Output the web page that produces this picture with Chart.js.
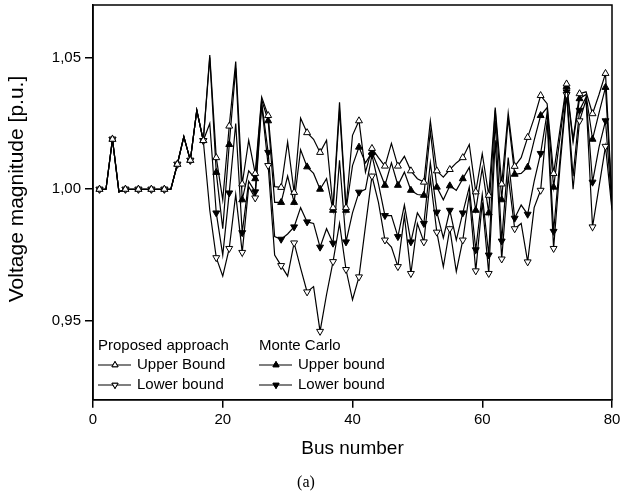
<!DOCTYPE html>
<html>
<head>
<meta charset="utf-8">
<script src="https://cdn.jsdelivr.net/npm/chart.js@4/dist/chart.umd.min.js"></script>
<style>
  html, body { margin: 0; padding: 0; background: #fff; }
  #wrap { width: 620px; height: 494px; }
</style>
</head>
<body>
<div id="wrap"><canvas id="busChart" width="620" height="494"></canvas></div>
<script>
// bus numbers (x axis categories)
const buses = [1,2,3,4,5,6,7,8,9,10,11,12,13,14,15,16,17,18,19,20,
  21,22,23,24,25,26,27,28,29,30,31,32,33,34,35,36,37,38,39,40,
  41,42,43,44,45,46,47,48,49,50,51,52,53,54,55,56,57,58,59,60,
  61,62,63,64,65,66,67,68,69,70,71,72,73,74,75,76,77,78,79,80];

// Proposed approach - upper bound
const propUpper = [1.000,1.000,1.019,0.999,1.000,1.000,1.000,1.000,1.000,1.000,
  1.000,1.000,1.0095,1.020,1.011,1.030,1.0185,1.051,1.012,0.996,
  1.024,1.0485,1.002,1.0186,1.006,1.035,1.028,1.001,1.0007,1.018,
  0.9988,1.027,1.0215,1.019,1.014,1.0186,0.993,1.033,0.993,1.0205,
  1.026,1.0065,1.0155,1.012,1.0088,1.0174,1.0088,1.0125,1.007,1.004,
  1.0027,1.026,1.007,1.0046,1.0075,1.010,1.012,1.017,0.999,1.0135,
  0.9977,1.031,1.002,1.029,1.0087,1.012,1.0197,1.027,1.0356,1.0325,
  1.006,1.023,1.040,1.019,1.0363,1.037,1.0287,1.036,1.044,0.996];

// Proposed approach - lower bound
const propLower = [1.000,1.000,1.019,0.999,1.000,1.000,1.000,1.000,1.000,1.000,
  1.000,1.000,1.0095,1.020,1.011,1.030,1.0185,0.992,0.974,0.967,
  0.9775,0.998,0.976,1.001,0.9967,1.032,1.009,0.975,0.971,0.967,
  0.9796,0.970,0.961,0.963,0.946,0.960,0.9725,0.987,0.9695,0.958,
  0.9667,0.986,1.005,0.995,0.9807,0.978,0.9706,0.990,0.968,0.987,
  0.980,1.004,0.9837,0.9705,0.985,0.9687,0.9807,0.998,0.969,0.995,
  0.968,1.0186,0.9735,1.005,0.985,0.987,0.9724,0.993,0.9996,1.026,
  0.9775,1.009,1.036,1.000,1.026,1.034,0.9857,1.001,1.0163,0.992];

// Monte Carlo - upper bound
const mcUpper = [1.000,1.000,1.019,0.999,1.000,1.000,1.000,1.000,1.000,1.000,
  1.000,1.000,1.0095,1.020,1.011,1.030,1.0185,1.050,1.0064,0.985,
  1.017,1.046,0.996,1.007,1.004,1.034,1.026,0.995,0.995,1.005,
  0.995,1.015,1.0085,1.006,1.000,1.004,0.992,1.030,0.992,1.009,
  1.016,1.010,1.014,1.008,1.0015,1.010,1.0015,1.0065,0.9996,0.998,
  0.9977,1.022,1.0008,0.996,1.0013,0.9996,1.004,1.0083,0.992,1.008,
  0.991,1.030,0.996,1.027,1.0057,1.006,1.0084,1.0186,1.028,1.031,
  1.0008,1.020,1.039,1.018,1.0344,1.036,1.019,1.029,1.0387,0.995];

// Monte Carlo - lower bound
const mcLower = [1.000,1.000,1.019,0.999,1.000,1.000,1.000,1.000,1.000,1.000,
  1.000,1.000,1.0095,1.020,1.011,1.030,1.0185,1.025,0.991,0.975,
  0.9986,1.025,0.9835,1.003,0.999,1.033,1.014,0.982,0.981,0.983,
  0.9857,0.993,0.9876,0.987,0.978,0.985,0.9795,1.011,0.980,0.991,
  0.9989,1.000,1.013,1.002,0.990,0.990,0.982,0.994,0.980,0.991,
  0.987,1.010,0.9913,0.9815,0.992,0.9807,0.991,1.0008,0.977,0.998,
  0.975,1.026,0.9803,1.012,0.989,0.994,0.9905,1.003,1.0136,1.029,
  0.984,1.012,1.037,1.005,1.030,1.035,1.0027,1.016,1.026,0.993];

const xTicks = [0, 20, 40, 60, 80];
const yTicks = [0.95, 1.00, 1.05];

const FONT = "'Liberation Sans', Arial, sans-serif";

function toPoints(values) {
    return buses.map((b, i) => ({ x: b, y: values[i] }));
}

// markers only on every other bus (odd numbers)
function markerRadius(ctx) {
    return ctx.raw && ctx.raw.x % 2 === 1 ? 4 : 0;
}

function makeSet(label, values, fill, rotation) {
    return {
        label: label,
        data: toPoints(values),
        borderColor: '#000',
        borderWidth: 1.2,
        pointStyle: 'triangle',
        pointRotation: rotation,
        pointRadius: markerRadius,
        pointHoverRadius: markerRadius,
        pointBackgroundColor: fill,
        pointBorderColor: '#000',
        pointBorderWidth: 1,
        tension: 0,
        fill: false
    };
}

// frame, y title and legend drawn on top of the plot
const framePlugin = {
    id: 'framePlugin',
    afterDraw(chart) {
        const ctx = chart.ctx;
        const a = chart.chartArea;
        ctx.save();
        ctx.strokeStyle = '#000';
        ctx.lineWidth = 1.5;
        ctx.strokeRect(a.left, a.top, a.right - a.left, a.bottom - a.top);

        // y axis title
        ctx.save();
        ctx.translate(17, 189);
        ctx.rotate(-Math.PI / 2);
        ctx.font = '21px ' + FONT;
        ctx.fillStyle = '#000';
        ctx.textAlign = 'center';
        ctx.textBaseline = 'middle';
        ctx.fillText('Voltage magnitude [p.u.]', 0, 0);
        ctx.restore();

        ctx.font = '15px ' + FONT;
        ctx.fillStyle = '#000';
        ctx.textBaseline = 'middle';
        ctx.textAlign = 'left';

        const cols = [
            { x: a.left + 5, head: 'Proposed approach', rows: [['Upper Bound', '#fff', 0], ['Lower bound', '#fff', 180]] },
            { x: a.left + 166, head: 'Monte Carlo', rows: [['Upper bound', '#000', 0], ['Lower bound', '#000', 180]] }
        ];
        const headY = a.top + 341;
        cols.forEach(col => {
            ctx.fillText(col.head, col.x, headY);
            col.rows.forEach((r, i) => {
                const y = headY + 19 + i * 20;
                ctx.beginPath();
                ctx.lineWidth = 1.2;
                ctx.moveTo(col.x, y);
                ctx.lineTo(col.x + 33, y);
                ctx.stroke();
                ctx.lineWidth = 1;
                Chart.helpers.drawPoint(ctx, {
                    pointStyle: 'triangle', rotation: r[2], radius: 3.5, borderWidth: 1
                }, col.x + 17, y);
                ctx.fillStyle = r[1];
                ctx.fill();
                ctx.stroke();
                ctx.fillStyle = '#000';
                ctx.fillText(r[0], col.x + 39, y);
            });
        });
        ctx.restore();
    }
};

document.addEventListener('DOMContentLoaded', function () {
    const ctx = document.getElementById('busChart').getContext('2d');
    new Chart(ctx, {
        type: 'line',
        data: {
            datasets: [
                makeSet('Proposed approach Upper Bound', propUpper, '#fff', 0),
                makeSet('Proposed approach Lower bound', propLower, '#fff', 180),
                makeSet('Monte Carlo Upper bound', mcUpper, '#000', 0),
                makeSet('Monte Carlo Lower bound', mcLower, '#000', 180)
            ]
        },
        options: {
            responsive: false,
            animation: false,
            layout: { padding: { left: 0, right: 8, top: 4, bottom: 0 } },
            plugins: {
                legend: { display: false },
                tooltip: { enabled: false },
                title: {
                    display: true,
                    position: 'bottom',
                    text: '(a)',
                    color: '#000',
                    font: { family: "'Liberation Serif', 'Times New Roman', serif", size: 16, weight: 'normal' },
                    padding: { top: 4, bottom: 2 }
                }
            },
            scales: {
                x: {
                    type: 'linear',
                    min: 0,
                    max: 80,
                    afterBuildTicks: s => { s.ticks = xTicks.map(v => ({ value: v })); },
                    afterFit: s => { s.height = 69; s.paddingLeft = 0; s.paddingRight = 0; },
                    grid: { drawOnChartArea: false, drawTicks: true, tickLength: 8, color: '#000', lineWidth: 1.5 },
                    border: { display: true, color: '#000', width: 1.5 },
                    ticks: { color: '#000', padding: 3, maxRotation: 0, font: { family: FONT, size: 15 } },
                    title: {
                        display: true,
                        text: 'Bus number',
                        color: '#000',
                        font: { family: FONT, size: 19 },
                        padding: { top: 0, bottom: 9 }
                    }
                },
                y: {
                    min: 0.92,
                    max: 1.07,
                    afterBuildTicks: s => { s.ticks = yTicks.map(v => ({ value: v })); },
                    afterFit: s => { s.width = 93; s.paddingTop = 0; s.paddingBottom = 0; },
                    grid: { drawOnChartArea: false, drawTicks: true, tickLength: 8, color: '#000', lineWidth: 1.5 },
                    border: { display: true, color: '#000', width: 1.5 },
                    ticks: {
                        color: '#000',
                        padding: 4,
                        font: { family: FONT, size: 15 },
                        callback: v => v.toFixed(2).replace('.', ',')
                    },
                    title: { display: false }
                }
            }
        },
        plugins: [framePlugin]
    });
});
</script>
</body>
</html>
